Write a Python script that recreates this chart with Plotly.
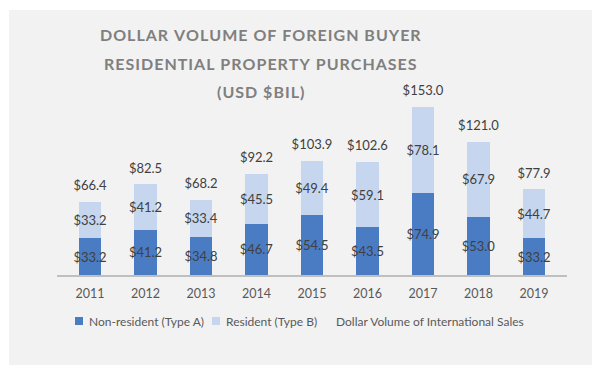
import plotly.graph_objects as go

years = ["2011", "2012", "2013", "2014", "2015", "2016", "2017", "2018", "2019"]
non_resident = [33.2, 41.2, 34.8, 46.7, 54.5, 43.5, 74.9, 53.0, 33.2]
resident = [33.2, 41.2, 33.4, 45.5, 49.4, 59.1, 78.1, 67.9, 44.7]
totals = [66.4, 82.5, 68.2, 92.2, 103.9, 102.6, 153.0, 121.0, 77.9]
title_lines = ["DOLLAR VOLUME OF FOREIGN BUYER", "RESIDENTIAL PROPERTY PURCHASES", "(USD $BIL)"]
series_names = ["Non-resident (Type A)", "Resident (Type B)", "Dollar Volume of International Sales"]
colors = ["#4A7CC4", "#C5D6EE"]

FONT = "Lato"
W, H = 600, 371
L, R, T, B = 57, 33, 77, 96
pw, ph = W - L - R, H - T - B

def px_x(p):
    return (p - L) / pw

def px_y(p):
    return (H - B - p) / ph

def spaced(s):
    return "\u200a".join(s)

fig = go.Figure()
for vals, name, col in [(non_resident, series_names[0], colors[0]),
                        (resident, series_names[1], colors[1])]:
    fig.add_trace(go.Bar(
        x=years, y=vals, name=name,
        marker=dict(color=col, line=dict(width=0)),
        texttemplate="$%{y:.1f}", textposition="inside", insidetextanchor="middle",
        constraintext="none", textangle=0,
        textfont=dict(family=FONT, size=13, color="#404040"),
    ))
fig.add_trace(go.Scatter(
    x=years, y=totals, name=series_names[2],
    mode="markers+text", marker=dict(size=12, color="rgba(0,0,0,0)"),
    texttemplate="$%{y:.1f}", textposition="top center",
    textfont=dict(family=FONT, size=13, color="#404040"),
))

# background panel
fig.add_shape(type="rect", xref="paper", yref="paper",
              x0=px_x(9), x1=px_x(592), y0=px_y(365), y1=px_y(10),
              fillcolor="#F2F2F2", line=dict(width=0), layer="below")

# title
for txt, yc in zip(title_lines, [35, 64, 91]):
    fig.add_annotation(text="<b>" + spaced(txt) + "</b>", xref="paper", yref="paper",
                       x=px_x(260), y=px_y(yc), xanchor="center", yanchor="middle",
                       showarrow=False,
                       font=dict(family=FONT, size=16, color="#7F7F7F"))

# legend (drawn manually)
leg_y = 321
for (x0, col) in [(75, colors[0]), (212, colors[1])]:
    fig.add_shape(type="rect", xref="paper", yref="paper",
                  x0=px_x(x0), x1=px_x(x0 + 8), y0=px_y(leg_y + 4), y1=px_y(leg_y - 4),
                  fillcolor=col, line=dict(width=0))
for xs, name in zip([87, 224, 334], series_names):
    fig.add_annotation(text=name, xref="paper", yref="paper",
                       x=px_x(xs), y=px_y(leg_y), xanchor="left", yanchor="middle",
                       showarrow=False,
                       font=dict(family=FONT, size=12, color="#595959"))

fig.update_layout(
    width=W, height=H,
    margin=dict(l=L, r=R, t=T, b=B, pad=0, autoexpand=False),
    paper_bgcolor="white", plot_bgcolor="rgba(0,0,0,0)",
    barmode="stack", bargap=0.59,
    showlegend=False,
    xaxis=dict(showline=True, linecolor="#BFBFBF", linewidth=1.5,
               ticks="outside", ticklen=6, tickcolor="rgba(0,0,0,0)",
               tickfont=dict(family=FONT, size=12.5, color="#595959"), showgrid=False),
    yaxis=dict(range=[0, 180], visible=False, showgrid=False),
    font=dict(family=FONT),
)

fig.write_html("out.html", config={"displayModeBar": False},
               post_script="document.body.style.margin='0';document.body.style.overflow='hidden';")
